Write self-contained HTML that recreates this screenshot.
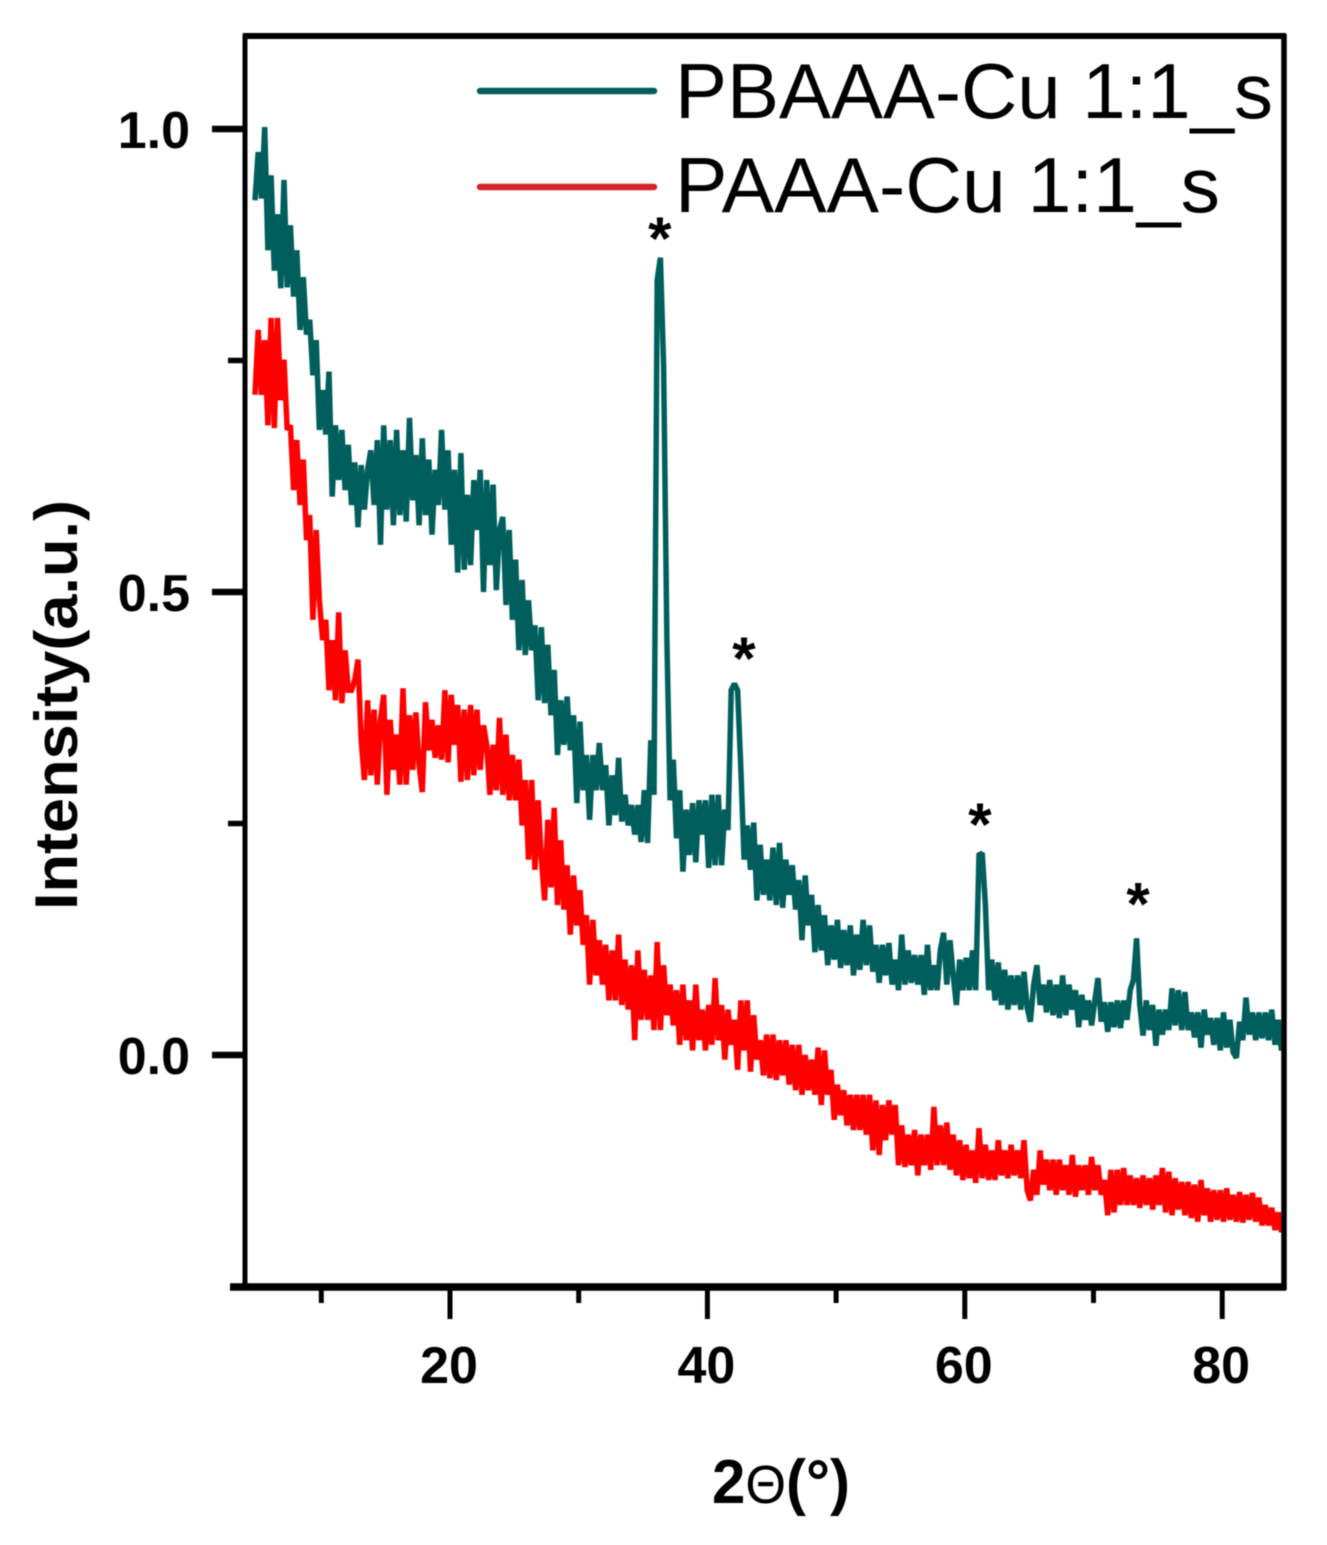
<!DOCTYPE html>
<html lang="en">
<head>
<meta charset="utf-8">
<title>XRD pattern of PBAAA-Cu and PAAA-Cu</title>
<style>
html,body{margin:0;padding:0;background:#fff;}
svg{display:block;filter:blur(0.6px);}
text{font-family:"Liberation Sans",sans-serif;fill:#000;}
</style>
</head>
<body>
<svg id="chart" xmlns="http://www.w3.org/2000/svg" width="1327" height="1545" viewBox="0 0 1327 1545">
  <defs><clipPath id="plot-clip"><rect x="247" y="38" width="1036" height="1247"/></clipPath></defs>
  <rect x="0" y="0" width="1327" height="1545" fill="#fff"/>
  <g id="series-layer" clip-path="url(#plot-clip)"></g>
  <g id="axis-layer"></g>
  <g id="marker-layer"></g>
  <text transform="translate(77,910) rotate(-90)" font-size="60" font-weight="700" textLength="410" lengthAdjust="spacingAndGlyphs">Intensity(a.u.)</text>
  <text x="712" y="1503" font-size="62" font-weight="700" textLength="138" lengthAdjust="spacingAndGlyphs">2<tspan font-weight="400" font-size="54">Θ</tspan>(°)</text>
  <g>
    <line x1="480" y1="91" x2="654" y2="91" stroke="#005f5c" stroke-width="6.5" stroke-linecap="round"/>
    <text x="675" y="118" font-size="78" textLength="598" lengthAdjust="spacingAndGlyphs">PBAAA-Cu 1:1_s</text>
    <line x1="480" y1="187" x2="654" y2="187" stroke="#d8222a" stroke-width="6.5" stroke-linecap="round"/>
    <text x="675" y="212" font-size="78" textLength="545" lengthAdjust="spacingAndGlyphs">PAAA-Cu 1:1_s</text>
  </g>
</svg>
<script>
const thetaStart = 4.85;
const thetaStep = 0.25;

const pbaaaValues = [
.923,.975,.925,1.002,.869,.950,.847,.908,.828,.945,
.829,.896,.819,.869,.783,.840,.778,.794,.734,.772,
.675,.718,.670,.738,.603,.680,.621,.675,.610,.659,
.594,.640,.570,.637,.589,.632,.653,.594,.664,.551,
.680,.589,.664,.572,.675,.583,.653,.576,.688,.599,
.648,.572,.666,.583,.643,.562,.632,.594,.675,.589,
.653,.551,.632,.521,.650,.524,.605,.529,.621,.567,
.632,.500,.621,.529,.616,.502,.567,.581,.486,.567,
.470,.535,.437,.513,.432,.491,.437,.464,.383,.462,
.380,.443,.367,.416,.324,.383,.335,.387,.329,.367,
.272,.360,.286,.324,.254,.324,.286,.337,.286,.313,
.248,.302,.259,.321,.252,.281,.248,.270,.238,.270,
.230,.286,.229,.340,.281,.837,.861,.745,.448,.275,
.319,.234,.286,.198,.265,.216,.272,.208,.275,.238,
.275,.202,.281,.205,.281,.205,.265,.243,.394,.401,
.394,.308,.211,.248,.200,.251,.167,.227,.173,.211,
.167,.224,.162,.229,.159,.211,.173,.205,.157,.189,
.124,.194,.140,.173,.111,.162,.113,.151,.097,.140,
.103,.146,.094,.135,.097,.140,.086,.130,.092,.146,
.097,.140,.090,.119,.078,.119,.086,.121,.076,.103,
.070,.130,.076,.113,.078,.108,.076,.108,.065,.119,
.070,.097,.070,.113,.132,.076,.124,.086,.054,.103,
.070,.105,.070,.113,.070,.216,.218,.162,.070,.103,
.059,.100,.054,.092,.049,.086,.054,.086,.049,.090,
.051,.036,.076,.097,.054,.076,.046,.081,.043,.076,
.040,.086,.043,.076,.049,.070,.030,.065,.038,.059,
.032,.059,.083,.036,.057,.025,.057,.030,.059,.029,
.059,.038,.070,.081,.126,.054,.021,.059,.027,.054,
.010,.049,.022,.049,.027,.072,.032,.070,.027,.068,
.027,.046,.019,.046,.008,.049,.022,.040,.011,.040,
.005,.046,.008,.038,.003,-.003,.036,.016,.062,.022,
.046,.016,.046,.018,.046,.016,.049,.011,.038,.005,.022
];

const paaaValues = [
.713,.783,.713,.772,.680,.796,.677,.796,.707,.751,
.675,.680,.610,.664,.594,.643,.556,.583,.470,.567,
.491,.448,.470,.394,.448,.383,.478,.380,.437,.394,
.394,.405,.427,.340,.297,.383,.302,.373,.292,.362,
.389,.281,.362,.308,.346,.292,.396,.292,.367,.308,
.370,.313,.284,.381,.329,.362,.321,.356,.319,.394,
.316,.389,.335,.378,.295,.373,.297,.378,.302,.373,
.308,.356,.335,.281,.335,.286,.364,.281,.346,.275,
.324,.275,.319,.248,.297,.211,.297,.200,.275,.211,
.167,.254,.181,.267,.162,.232,.157,.205,.130,.194,
.140,.178,.119,.151,.076,.146,.086,.124,.076,.119,
.059,.113,.059,.130,.054,.103,.049,.097,.016,.113,
.038,.092,.038,.086,.027,.122,.027,.097,.043,.076,
.032,.070,.011,.076,.016,.059,.005,.076,.016,.049,
.005,.054,.011,.083,.016,.054,-.005,.049,.011,.038,
-.016,.059,.005,.059,-.018,.043,-.005,.016,-.022,.022,
-.025,.022,-.027,.016,-.022,.016,-.032,.011,-.038,.011,
-.043,0,-.038,-.005,-.043,.008,-.054,.005,-.043,-.016,
-.070,-.032,-.065,-.038,-.076,-.043,-.081,-.043,-.081,-.043,
-.086,-.043,-.103,-.049,-.108,-.054,-.092,-.049,-.086,-.054,
-.119,-.076,-.121,-.086,-.119,-.081,-.130,-.086,-.119,-.086,
-.124,-.056,-.119,-.076,-.119,-.073,-.124,-.086,-.130,-.092,
-.135,-.097,-.133,-.103,-.138,-.079,-.133,-.097,-.135,-.103,
-.135,-.092,-.130,-.103,-.133,-.097,-.130,-.103,-.133,-.092,
-.146,-.157,-.124,-.151,-.103,-.140,-.113,-.146,-.113,-.151,
-.113,-.146,-.119,-.151,-.108,-.153,-.119,-.146,-.119,-.151,
-.110,-.146,-.119,-.151,-.135,-.173,-.124,-.170,-.124,-.162,
-.122,-.162,-.130,-.162,-.133,-.165,-.130,-.162,-.133,-.167,
-.130,-.162,-.122,-.170,-.126,-.173,-.133,-.167,-.137,-.173,
-.137,-.176,-.140,-.180,-.135,-.173,-.144,-.180,-.146,-.178,
-.146,-.180,-.144,-.178,-.151,-.180,-.148,-.181,-.151,-.178,
-.149,-.180,-.154,-.184,-.162,-.184,-.165,-.189,-.170,-.191,-.180
];

const xMajorTicks = [20, 40, 60, 80];
const xMajorLabels = ["20", "40", "60", "80"];
const xMinorTicks = [10, 30, 50, 70];
const yMajorTicks = [0, 0.5, 1];
const yMajorLabels = ["0.0", "0.5", "1.0"];
const yMinorTicks = [0.25, 0.75];
const peakThetas = [36.3, 42.84, 61.18, 73.46];
const peakMarkerHeights = [0.889, 0.435, 0.256, 0.170];

const SVG_NS = "http://www.w3.org/2000/svg";
function xScale(v) { return 450 + (v - 20) * 12.87; }
function yScale(v) { return 1055 - v * 926; }

function makeLine(parent, x1, y1, x2, y2, width) {
  const el = document.createElementNS(SVG_NS, "line");
  el.setAttribute("x1", x1);
  el.setAttribute("y1", y1);
  el.setAttribute("x2", x2);
  el.setAttribute("y2", y2);
  el.setAttribute("stroke", "#000");
  el.setAttribute("stroke-width", width);
  parent.appendChild(el);
  return el;
}

function makeText(parent, x, y, size, anchor, content) {
  const el = document.createElementNS(SVG_NS, "text");
  el.setAttribute("x", x);
  el.setAttribute("y", y);
  el.setAttribute("font-size", size);
  el.setAttribute("font-weight", "700");
  el.setAttribute("text-anchor", anchor);
  el.textContent = content;
  parent.appendChild(el);
  return el;
}

function drawSeries(values, color, name) {
  const pts = values.map(function (v, i) {
    return xScale(thetaStart + i * thetaStep).toFixed(1) + "," + yScale(v).toFixed(1);
  });
  const el = document.createElementNS(SVG_NS, "polyline");
  el.setAttribute("points", pts.join(" "));
  el.setAttribute("fill", "none");
  el.setAttribute("stroke", color);
  el.setAttribute("stroke-width", "5.5");
  el.setAttribute("stroke-linejoin", "miter");
  el.setAttribute("stroke-miterlimit", "1.5");
  
  
  document.getElementById("series-layer").appendChild(el);
}

drawSeries(paaaValues, "#ff0000", "series-paaa-cu");
drawSeries(pbaaaValues, "#005f5c", "series-pbaaa-cu");

const axisLayer = document.getElementById("axis-layer");

const frameLeft = makeLine(axisLayer, 245, 34, 245, 1290, 5);


const frameRight = makeLine(axisLayer, 1284, 34, 1284, 1290, 5.5);


const frameTop = makeLine(axisLayer, 243, 36, 1286, 36, 6);


const frameBottom = makeLine(axisLayer, 230, 1287, 1286, 1287, 7.5);



xMajorTicks.forEach(function (v, i) {
  const x = xScale(v);
  const tick = makeLine(axisLayer, x, 1287, x, 1319, 5);
  
  
  const label = makeText(axisLayer, x - 1, 1383, 52, "middle", xMajorLabels[i]);
  
  
});

xMinorTicks.forEach(function (v) {
  const x = xScale(v);
  const tick = makeLine(axisLayer, x, 1287, x, 1303, 5);
  
  
});

yMajorTicks.forEach(function (v, i) {
  const y = yScale(v);
  const tick = makeLine(axisLayer, 212, y, 245, y, 6.5);
  
  
  const label = makeText(axisLayer, 190, y + 19, 52, "end", yMajorLabels[i]);
  
  
});

yMinorTicks.forEach(function (v) {
  const y = yScale(v);
  const tick = makeLine(axisLayer, 228, y, 245, y, 5.5);
  
  
});

const markerLayer = document.getElementById("marker-layer");
peakThetas.forEach(function (t, i) {
  const star = makeText(markerLayer, xScale(t), yScale(peakMarkerHeights[i]) + 27, 60, "middle", "*");
  
  
});
</script>
</body>
</html>
